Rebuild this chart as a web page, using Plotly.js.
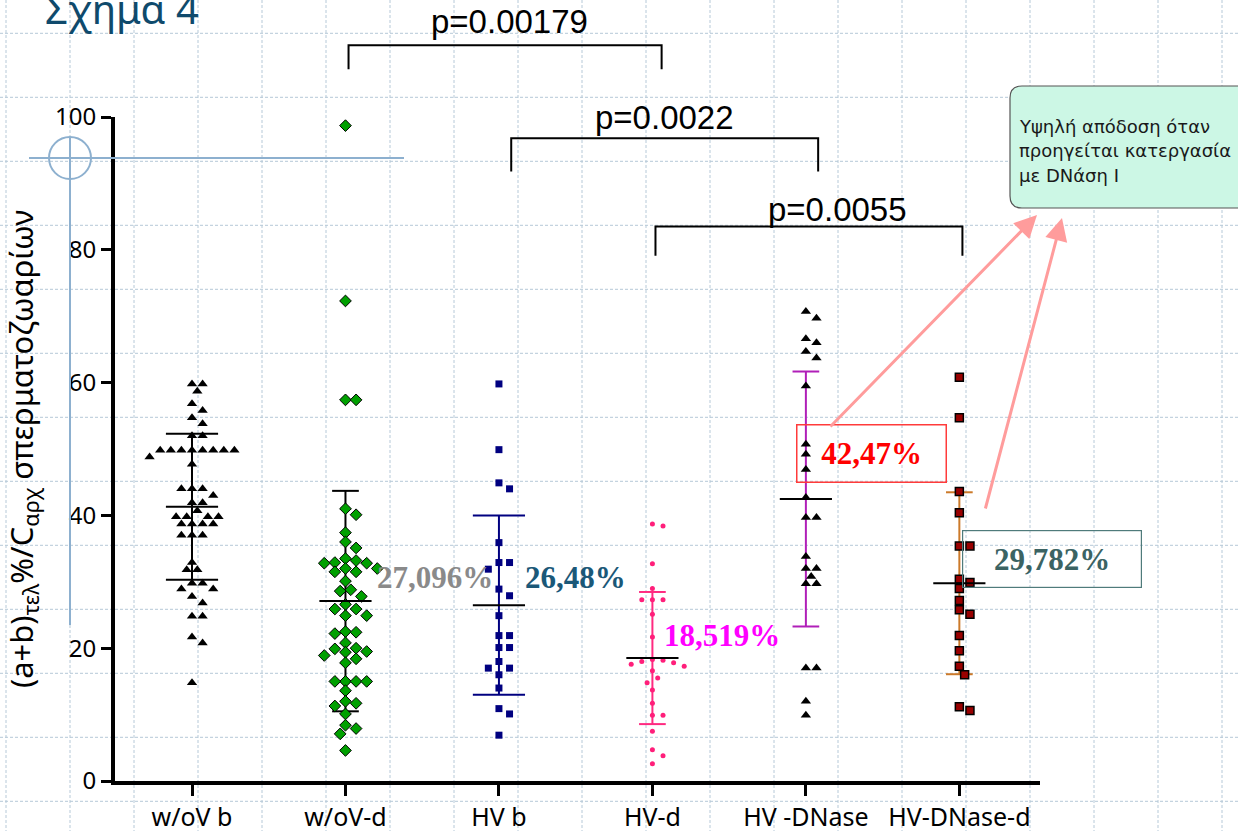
<!DOCTYPE html>
<html><head><meta charset="utf-8">
<script src="https://cdn.plot.ly/plotly-3.0.1.min.js"></script>
<style>html,body{margin:0;padding:0;background:#fff;overflow:hidden}</style>
</head><body>
<div id="chart" style="width:1238px;height:831px"></div>
<script>
// ---------- data ----------
const categories = ['w/oV b', 'w/oV-d', 'HV b', 'HV-d', 'HV -DNase', 'HV-DNase-d'];
const woVb = [59.8,59.8,58.7,56.8,55.8,54.7,53.8,52.0,52.0,49.8,49.8,49.8,49.8,49.8,49.8,49.8,49.8,48.8,47.7,44.0,44.0,44.0,43.0,41.9,41.9,40.7,39.8,39.8,39.8,39.8,38.7,38.7,38.7,38.7,37.0,37.0,37.0,32.9,31.8,31.8,29.8,29.8,28.9,28.9,27.8,26.8,24.8,24.8,21.7,20.8,14.8];
const woVd = [98.7,72.3,57.4,57.4,41.0,40.1,37.4,36.0,35.1,33.5,33.2,32.9,32.8,32.8,32.0,32.0,31.5,31.5,30.1,28.8,28.6,27.8,26.6,25.9,25.9,24.9,24.9,22.5,22.4,22.2,20.8,20.0,19.9,19.5,19.4,18.9,18.4,17.8,15.0,15.0,15.0,15.0,13.6,12.0,11.7,11.3,10.1,8.4,7.9,7.1,4.6];
const HVb = [59.8,49.9,44.9,44.0,35.9,32.9,32.9,31.9,28.9,27.9,24.9,21.9,21.9,20.1,20.1,18.0,17.0,17.0,16.0,14.0,10.9,10.1,6.9];
const HVd = [38.7,38.4,32.7,29.0,27.3,27.3,27.3,25.1,21.7,18.3,18.2,18.0,17.8,17.6,17.3,16.6,15.5,14.8,13.7,11.7,9.9,9.9,7.5,4.7,3.8,2.6];
const HVDNase = [70.7,69.7,66.6,66.0,64.7,63.7,59.5,50.7,49.2,46.9,42.7,39.7,39.7,33.8,32.0,32.0,30.8,29.7,29.7,17.0,17.0,12.0,9.9];
const HVDNased = [60.8,54.7,43.6,40.4,35.4,35.4,30.4,29.9,29.0,27.2,25.8,25.1,21.9,19.6,17.3,16.0,11.2,10.6];
const groupMeans = [41.3, 27.096, 26.48, 18.519, 42.47, 29.782];
const groupSD = [11.0, 16.6, 13.5, 9.95, 19.2, 13.7];
const meanLabels = ['', '27,096%', '26,48%', '18,519%', '42,47%', '29,782%'];
const pValues = ['p=0.00179', 'p=0.0022', 'p=0.0055'];
const comparisons = [[2, 4], [3, 5], [4, 6]];
const yTicks = [0, 20, 40, 60, 80, 100];
const calloutLines = ['Υψηλή απόδοση όταν', 'προηγείται κατεργασία', 'με DNάση Ι'];
const chartTitle = 'Σχήμα 4';
const yTitle = '(a+b)<sub>τελ</sub>%/C<sub>αρχ</sub> σπερματοζωαρίων';

// ---------- geometry / style ----------
const FW = 1238, FH = 831;
const L = 115, R = 198, T = 117, B = 50;
const W = FW - L - R, H = FH - T - B;
const xRange = [0.4983, 6.5255];
const PXX = W / (xRange[1] - xRange[0]);
const PXY = H / 100;
const pX = px => (px - L) / W;          // page pixel -> paper
const pY = py => 1 - (py - T) / H;
const vY = v => v / 100;                // y value -> paper (domain [0,1], range [0,100])

const groups = [woVb, woVd, HVb, HVd, HVDNase, HVDNased];
const markerStyles = [
  {symbol: 'triangle-up', size: 9, color: '#000000'},
  {symbol: 'diamond', size: 9, color: '#00a000', line: {color: '#000', width: 1}},
  {symbol: 'square', size: 7, color: '#000080'},
  {symbol: 'circle', size: 5, color: '#ff1f7a'},
  {symbol: 'triangle-up', size: 9, color: '#000000'},
  {symbol: 'square', size: 8, color: '#990000', line: {color: '#000', width: 1.5}}
];
const sdColors = ['#000000', '#000000', '#000080', '#ff2a80', '#b01fb8', '#cc7a2a'];
const capHalf = [0.17, 0.087, 0.17, 0.087, 0.087, 0.087];
const meanHalf = 0.17;

// simple beeswarm (pixel space) so overlapping points spread sideways
function swarm(vals, d, s) {
  const order = vals.map((v, i) => i).sort((a, b) => vals[b] - vals[a]);
  const placed = [], off = new Array(vals.length);
  order.forEach(k => {
    const y = vals[k] * PXY;
    for (let j = 0; j < 60; j++) {
      const m = j === 0 ? 0 : (j % 2 ? Math.ceil(j / 2) : -Math.ceil(j / 2));
      const x = m * s;
      if (placed.every(p => Math.hypot(p[0] - x, p[1] - y) >= d)) {
        placed.push([x, y]); off[k] = x / PXX; break;
      }
    }
  });
  return off;
}

const traces = [];
// SD bars
groups.forEach((g, i) => {
  const c = i + 1, m = groupMeans[i], s = groupSD[i], h = capHalf[i];
  traces.push({
    type: 'scatter', mode: 'lines', hoverinfo: 'skip', showlegend: false,
    x: [c, c, null, c - h, c + h, null, c - h, c + h],
    y: [m - s, m + s, null, m + s, m + s, null, m - s, m - s],
    line: {color: sdColors[i], width: 2}, cliponaxis: false
  });
});
// points
groups.forEach((g, i) => {
  const off = swarm(g, 9, 5.3);
  traces.push({
    type: 'scatter', mode: 'markers', showlegend: false, name: categories[i],
    x: g.map((v, k) => i + 1 + off[k]), y: g,
    marker: markerStyles[i], cliponaxis: false
  });
});
// means
const mx = [], my = [];
groupMeans.forEach((m, i) => { mx.push(i + 1 - meanHalf, i + 1 + meanHalf, null); my.push(m, m, null); });
traces.push({type: 'scatter', mode: 'lines', x: mx, y: my, showlegend: false, hoverinfo: 'skip',
  line: {color: '#000', width: 2}, cliponaxis: false});

// ---------- decorations ----------
const shapes = [];
for (let gx = 6; gx <= FW; gx += 64) shapes.push({type: 'line', xref: 'paper', yref: 'paper', layer: 'below',
  x0: pX(gx), x1: pX(gx), y0: pY(0), y1: pY(FH), line: {color: '#b6c9d8', width: 1, dash: '3px,2px'}});
for (let gy = 33.3; gy <= FH; gy += 64) shapes.push({type: 'line', xref: 'paper', yref: 'paper', layer: 'below',
  x0: pX(0), x1: pX(FW), y0: pY(gy), y1: pY(gy), line: {color: '#b6c9d8', width: 1, dash: '3px,2px'}});
// crosshair
const ch = '#8db0cf';
shapes.push({type: 'circle', xref: 'paper', yref: 'paper', x0: pX(49), x1: pX(91), y0: pY(179), y1: pY(137), line: {color: ch, width: 2}});
shapes.push({type: 'line', xref: 'paper', yref: 'paper', x0: pX(29), x1: pX(404), y0: pY(158), y1: pY(158), line: {color: ch, width: 2}});
shapes.push({type: 'line', xref: 'paper', yref: 'paper', x0: pX(70), x1: pX(70), y0: pY(137), y1: pY(625), line: {color: ch, width: 2}});

// significance brackets
const bracketTop = [110.8, 96.8, 83.5], bracketLeg = [3.6, 5.0, 4.4];
const bracketShift = [[0.02, 0.06], [0.08, 0.08], [0.02, 0.02]];
const annotations = [];
comparisons.forEach((cp, k) => {
  const x0 = cp[0] + bracketShift[k][0], x1 = cp[1] + bracketShift[k][1];
  const yt = vY(bracketTop[k]), yb = vY(bracketTop[k] - bracketLeg[k]);
  shapes.push({type: 'path', xref: 'x', yref: 'paper',
    path: `M${x0},${yb} L${x0},${yt} L${x1},${yt} L${x1},${yb}`, line: {color: '#000', width: 2}});
});
const pTextX = [3.072, 4.082, 5.209], pTextY = [114.4, 99.9, 86.1];
pValues.forEach((t, k) => annotations.push({text: t, xref: 'x', yref: 'paper', x: pTextX[k], y: vY(pTextY[k]),
  showarrow: false, xanchor: 'center', yanchor: 'middle',
  font: {family: 'Liberation Sans Narrow, Arial Narrow, Liberation Sans, sans-serif', size: 33, color: '#000'}}));

// mean labels
const serif = 'Liberation Serif, Times New Roman, serif';
annotations.push({text: '<b>' + meanLabels[1] + '</b>', xref: 'x', yref: 'y', x: 2.583, y: 30.6, showarrow: false,
  font: {family: serif, size: 31, color: '#8a8a8a'}});
annotations.push({text: '<b>' + meanLabels[2] + '</b>', xref: 'x', yref: 'y', x: 3.502, y: 30.6, showarrow: false,
  font: {family: serif, size: 31, color: '#1b5878'}});
annotations.push({text: '<b>' + meanLabels[3] + '</b>', xref: 'x', yref: 'y', x: 4.453, y: 21.9, showarrow: false,
  font: {family: serif, size: 31, color: '#ff00ff'}});
annotations.push({text: '<b>' + meanLabels[4] + '</b>', xref: 'x', yref: 'y', x: 4.936, y: 49.35, xanchor: 'left',
  showarrow: false, width: 148, height: 56, borderpad: 0, bordercolor: '#ff3b3b', borderwidth: 1.5, align: 'center',
  font: {family: serif, size: 31, color: '#ff0000'}});
annotations.push({text: '<b>' + meanLabels[5] + '</b>', xref: 'x', yref: 'y', x: 6.017, y: 33.4, xanchor: 'left',
  showarrow: false, width: 178, height: 56, borderpad: 0, bordercolor: '#4f7b7b', borderwidth: 1.2, align: 'center',
  font: {family: serif, size: 31, color: '#3b6363'}});

// callout box
const cx0 = 1010, cx1 = 1252, cy0 = 86, cy1 = 208, cr = 12;
shapes.push({type: 'path', xref: 'paper', yref: 'paper', fillcolor: '#ccf7e5', line: {color: '#555', width: 1.2},
  path: `M${pX(cx0 + cr)},${pY(cy0)} L${pX(cx1 - cr)},${pY(cy0)} Q${pX(cx1)},${pY(cy0)} ${pX(cx1)},${pY(cy0 + cr)}` +
        ` L${pX(cx1)},${pY(cy1 - cr)} Q${pX(cx1)},${pY(cy1)} ${pX(cx1 - cr)},${pY(cy1)} L${pX(cx0 + cr)},${pY(cy1)}` +
        ` Q${pX(cx0)},${pY(cy1)} ${pX(cx0)},${pY(cy1 - cr)} L${pX(cx0)},${pY(cy0 + cr)} Q${pX(cx0)},${pY(cy0)} ${pX(cx0 + cr)},${pY(cy0)} Z`});
calloutLines.forEach((t, k) => annotations.push({text: t, xref: 'paper', yref: 'paper', x: pX(1017), y: pY(127 + 24 * k),
  xanchor: 'left', yanchor: 'middle', showarrow: false, font: {family: 'DejaVu Sans, sans-serif', size: 18, color: '#1a1a1a'}}));

// pink arrows
[[1037, 215, 829, 428], [1062, 218, 985, 510]].forEach(a => annotations.push({
  text: '', xref: 'paper', yref: 'paper', x: pX(a[0]), y: pY(a[1]), ax: a[2] - a[0], ay: a[3] - a[1],
  showarrow: true, arrowhead: 2, arrowsize: 1.5, arrowwidth: 3, arrowcolor: '#ff9c9c', standoff: 0, startstandoff: 0}));

const layout = {
  width: FW, height: FH,
  margin: {l: L, r: R, t: T, b: B, pad: 0},
  paper_bgcolor: '#ffffff', plot_bgcolor: 'rgba(0,0,0,0)',
  showlegend: false,
  title: {text: chartTitle, xref: 'container', yref: 'container', x: 45 / FW, xanchor: 'left',
    y: 1 - 10 / FH, yanchor: 'middle', font: {family: 'Noto Sans, sans-serif', size: 40, color: '#0f4a6c'}},
  xaxis: {range: xRange, tickmode: 'array', tickvals: [1, 2, 3, 4, 5, 6], ticktext: categories,
    showgrid: false, zeroline: false, showline: true, linecolor: '#000', linewidth: 4,
    ticks: 'outside', ticklen: 11, tickwidth: 3, tickcolor: '#000', ticklabelstandoff: 0,
    tickfont: {family: 'Noto Sans, sans-serif', size: 25, color: '#000'}},
  yaxis: {range: [0, 100], tickmode: 'array', tickvals: yTicks,
    showgrid: false, zeroline: false, showline: true, linecolor: '#000', linewidth: 4,
    ticks: 'outside', ticklen: 10, tickwidth: 3, tickcolor: '#000', ticklabelstandoff: 0,
    tickfont: {family: 'Noto Sans, sans-serif', size: 24, color: '#000'},
    title: {text: yTitle, standoff: 14, font: {family: 'Noto Sans, sans-serif', size: 31, color: '#000'}}},
  shapes: shapes,
  annotations: annotations
};

Plotly.newPlot('chart', traces, layout, {displayModeBar: false, staticPlot: true});
</script>
</body></html>
